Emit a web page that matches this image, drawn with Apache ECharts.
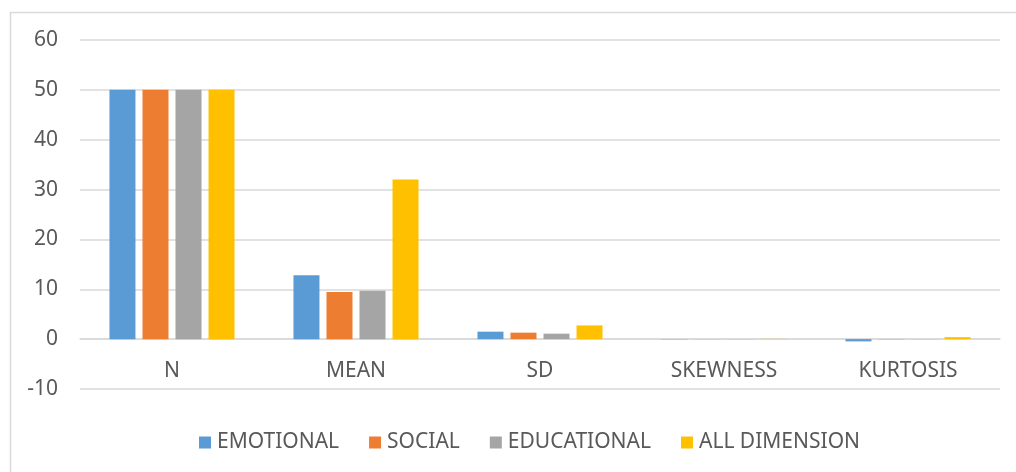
<!DOCTYPE html>
<html>
<head>
<meta charset="utf-8">
<script src="https://cdn.jsdelivr.net/npm/echarts@6/dist/echarts.min.js"></script>
<style>html,body{margin:0;padding:0;background:#fff}#c{width:1016px;height:472px}</style>
</head>
<body>
<div id="c"></div>
<script>
const categories = ['N', 'MEAN', 'SD', 'SKEWNESS', 'KURTOSIS'];
const seriesNames = ['EMOTIONAL', 'SOCIAL', 'EDUCATIONAL', 'ALL DIMENSION'];
const emotional = [50, 12.8, 1.5, -0.05, -0.45];
const social = [50, 9.45, 1.3, 0.03, -0.05];
const educational = [50, 9.7, 1.1, -0.03, 0.03];
const allDimension = [50, 32, 2.75, 0.05, 0.4];
const yTicks = [-10, 0, 10, 20, 30, 40, 50, 60];
const colors = ['#5B9BD5', '#ED7D31', '#A5A5A5', '#FFC000'];

const values = [emotional, social, educational, allDimension];
const font = 'Noto Sans';
const chart = echarts.init(document.getElementById('c'), null, {renderer: 'canvas'});
chart.setOption({
  animation: false,
  backgroundColor: '#fff',
  graphic: [{
    type: 'rect', left: 8, top: 10, silent: true,
    shape: {width: 1100, height: 600},
    style: {fill: 'none', stroke: '#D9D9D9', lineWidth: 1.5}
  }],
  grid: {left: 80, right: 16, top: 40, bottom: 83, containLabel: false},
  legend: {
    data: seriesNames,
    top: 427, left: 194,
    itemWidth: 12, itemHeight: 12, itemGap: 30,
    icon: 'rect',
    textStyle: {fontFamily: font, fontSize: 21, color: '#595959', padding: [0, 0, 0, 1]}
  },
  xAxis: {
    type: 'category',
    data: categories,
    offset: -50,
    axisTick: {show: false},
    axisLine: {onZero: false, lineStyle: {color: '#D9D9D9', width: 1.5}},
    axisLabel: {fontFamily: font, fontSize: 21, color: '#595959', margin: 22}
  },
  yAxis: {
    type: 'value',
    min: yTicks[0], max: yTicks[yTicks.length - 1], interval: 10,
    axisLine: {show: false},
    axisTick: {show: false},
    splitLine: {lineStyle: {color: '#D9D9D9', width: 1.5}},
    axisLabel: {fontFamily: font, fontSize: 21, color: '#595959', margin: 22}
  },
  series: seriesNames.map((n, i) => ({
    name: n, type: 'bar', data: values[i],
    barWidth: 26, barGap: '27%',
    itemStyle: {color: colors[i]}
  }))
});
</script>
</body>
</html>
